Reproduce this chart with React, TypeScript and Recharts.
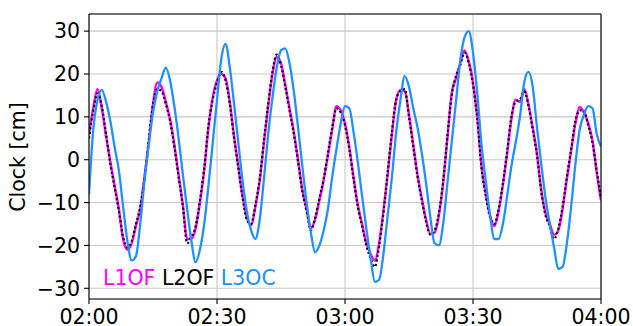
import React from "react";
import { LineChart, Line, XAxis, YAxis, CartesianGrid, ReferenceLine } from "recharts";

// minutes after 02:00
const minutes: number[] = Array.from({ length: 121 }, (_, i) => i);

const l1of: number[] = [
  6, 12, 16.5, 12, 5.5, -0.5, -6, -11.5, -18.5, -21,
  -19.5, -15.5, -11.5, -4, 4, 13, 18, 17, 13.5, 9.5,
  3.5, -3.5, -10.5, -18.5, -18.5, -16, -10, -2.5, 7.5, 14.5,
  18.5, 20, 19, 13.5, 5.5, -1.5, -8.5, -13.5, -15.3, -11,
  -5, 4, 12.5, 20, 24, 22.5, 17.5, 12, 6.5, 0,
  -7, -11.5, -16, -14, -9.5, -4.8, 1, 7, 12.5, 11.5,
  8.5, 3, -4, -10.5, -15, -19.5, -22, -23.5, -19.5, -12,
  -3.5, 6, 14, 16.3, 16, 10.5, 3.5, -3.5, -9, -14,
  -17.3, -17, -13, -5.5, 5, 15.4, 19, 22.5, 25.5, 23,
  18, 10, -1.5, -8, -13, -15.5, -12, -6, 1.5, 9.5,
  14, 13.5, 16.5, 13, 7.5, 1.5, -7, -12.5, -15, -17.5,
  -16.5, -11.5, -4.5, 2, 8.5, 12.3, 11, 8.5, 4.5, -3,
  -9.5,
];

const l2of: number[] = [
  5, 11.5, 15.5, 12.5, 6, -1, -6.5, -12, -18, -20.5,
  -19, -15, -11, -4.5, 4.5, 13, 16.5, 16, 13, 9,
  3, -4, -11, -19.5, -18, -15.5, -9.5, -2, 8, 14,
  18, 20.5, 18.5, 13, 5, -2, -9, -14, -15, -10.5,
  -4.5, 4.5, 13, 20.5, 24.5, 22, 17, 11.5, 6, -0.5,
  -7.5, -12, -16.5, -13.5, -9, -4.5, 1.5, 7.5, 12, 11,
  8, 2.5, -4.5, -11, -15.5, -20, -23, -25, -20, -12.5,
  -3, 6.5, 14, 16, 16.5, 10, 3, -4, -9.5, -14.5,
  -17.5, -16.5, -12.5, -5, 5.5, 15, 19.5, 22, 25, 22.5,
  17.5, 9.5, -2, -8.5, -13.5, -15, -11.5, -5.5, 2, 10,
  13.5, 14, 16, 12.5, 7, 1, -7.5, -13, -15.5, -18.5,
  -16, -11, -4, 2.5, 9, 11.5, 11.5, 8, 4, -2.5,
  -9,
];

const l3oc: number[] = [
  -8, 7, 14, 16.3, 13.5, 9, 3, -2.5, -11, -19,
  -23.5, -22.5, -15, -5, 3.5, 11, 16, 19, 21.5, 18.5,
  12.5, 5, -3.5, -11.5, -19, -23.9, -21, -15, -6, 4,
  14, 23.5, 27, 21.5, 13, 4, -5, -12, -16.5, -18.5,
  -14, -4.5, 6, 14.5, 21.5, 25.5, 26, 22.5, 16, 7.5,
  -1.5, -10, -17, -21.6, -20, -16.5, -11.5, -4, 2.5, 8.5,
  12.5, 12, 6.5, -0.5, -8.5, -16, -23, -28.5, -28, -22,
  -13, -4, 6.5, 14, 19.5, 17, 12, 7.5, 1.5, -5.5,
  -13.4, -19.5, -20, -15, -5.5, 4, 13.5, 23, 28.5, 30,
  25, 15.5, 3.5, -5, -13, -18.5, -18.5, -15, -8.5, -1.5,
  4, 10, 18, 20.5, 17, 7.5, -1, -9, -15, -20.5,
  -25.5, -25, -19.5, -11, -1, 7, 10.5, 12.5, 12, 6,
  3,
];

const xTicks: number[] = [0, 30, 60, 90, 120];
const xTickLabels: string[] = ["02:00", "02:30", "03:00", "03:30", "04:00"];
const yTicks: number[] = [-30, -20, -10, 0, 10, 20, 30];
const seriesNames: string[] = ["L1OF", "L2OF", "L3OC"];

const data = minutes.map((t, i) => ({
  t,
  L1OF: l1of[i],
  L2OF: l2of[i],
  L3OC: l3oc[i],
}));

const FONT = "DejaVu Sans";
const FS = 20.5;

export default function App() {
  return (
    <div style={{ position: "absolute", left: 0, top: 0, width: 633, height: 326, background: "#fff" }}>
      <LineChart
        width={633}
        height={326}
        data={data}
        margin={{ top: 14, right: 32, bottom: 0, left: 0 }}
      >
        <CartesianGrid stroke="#c8c8c8" strokeWidth={1.1} />
        <XAxis
          dataKey="t"
          type="number"
          domain={[0, 120]}
          ticks={xTicks}
          height={27}
          tickFormatter={(v: number) => xTickLabels[xTicks.indexOf(v)] ?? ""}
          tick={{ fill: "#000", fontSize: FS, fontFamily: FONT }}
          tickLine={{ stroke: "#000", strokeWidth: 1.1 }}
          axisLine={{ stroke: "#000", strokeWidth: 1.1 }}
          tickSize={5}
          tickMargin={5}
          interval={0}
          allowDataOverflow
        />
        <YAxis
          type="number"
          domain={[-32.5, 34]}
          ticks={yTicks}
          width={89}
          tickFormatter={(v: number) => String(v).replace("-", "\u2212")}
          tick={{ fill: "#000", fontSize: FS, fontFamily: FONT }}
          tickLine={{ stroke: "#000", strokeWidth: 1.1 }}
          axisLine={{ stroke: "#000", strokeWidth: 1.1 }}
          tickSize={5}
          tickMargin={4}
          interval={0}
          allowDataOverflow
        />
        <Line
          dataKey="L1OF"
          type="monotone"
          stroke="#ff00ff"
          strokeWidth={2.4}
          dot={false}
          isAnimationActive={false}
        />
        <Line
          dataKey="L2OF"
          type="monotone"
          stroke="#000000"
          strokeWidth={2.2}
          strokeDasharray="2 2.5"
          dot={false}
          isAnimationActive={false}
        />
        <Line
          dataKey="L3OC"
          type="monotone"
          stroke="#1e90ff"
          strokeWidth={2.3}
          dot={false}
          isAnimationActive={false}
        />
        <ReferenceLine y={34} stroke="#000" strokeWidth={1.1} ifOverflow="visible" />
        <ReferenceLine x={120} stroke="#000" strokeWidth={1.1} ifOverflow="visible" />
      </LineChart>
      <svg
        width={633}
        height={326}
        style={{ position: "absolute", left: 0, top: 0, pointerEvents: "none" }}
      >
        <text
          x={0}
          y={0}
          transform="translate(25,157) rotate(-90)"
          textAnchor="middle"
          fontFamily={FONT}
          fontSize={FS}
          fill="#000"
        >
          Clock [cm]
        </text>
        <text x={103} y={284.5} fontFamily={FONT} fontSize={FS} xmlSpace="preserve">
          <tspan fill="#ff00ff">{seriesNames[0]}</tspan>
          <tspan fill="#000000">{" " + seriesNames[1]}</tspan>
          <tspan fill="#1e90ff">{" " + seriesNames[2]}</tspan>
        </text>
      </svg>
    </div>
  );
}
